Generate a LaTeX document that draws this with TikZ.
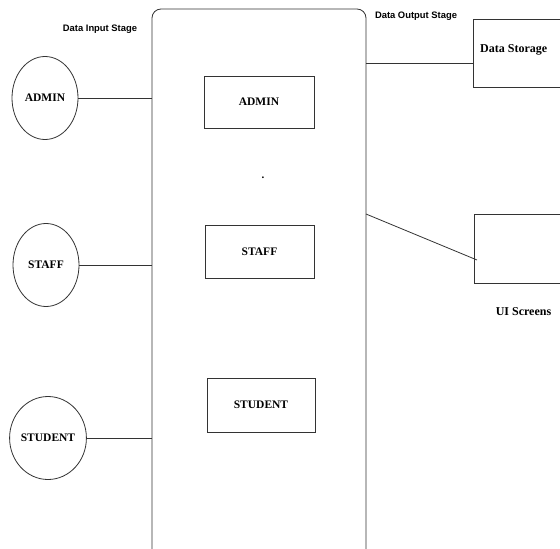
\documentclass[tikz,border=0pt]{standalone}
\usepackage{fontspec}
\setmainfont{Liberation Serif}
\newfontfamily\labsans{Liberation Sans}
\usetikzlibrary{shapes.geometric}
\begin{document}
\begin{tikzpicture}[x=1pt,y=-1pt,
  ln/.style={draw=black!80,line width=0.8pt},
  actor/.style={ellipse,ln,minimum width=66pt,minimum height=83pt,inner sep=0pt,font=\fontsize{11.5}{12}\selectfont\bfseries},
  modbox/.style={rectangle,ln,minimum width=110pt,minimum height=53pt,inner sep=0pt,font=\fontsize{11.5}{12}\selectfont\bfseries},
  outbox/.style={rectangle,ln,minimum width=100pt,minimum height=69pt,inner sep=0pt},
  stagelbl/.style={font=\labsans\fontsize{9.4}{10}\selectfont\bfseries,inner sep=0pt},
  serlbl/.style={font=\fontsize{12}{13}\selectfont\bfseries,inner sep=0pt}]
\useasboundingbox (0,0) rectangle (560,549);
% container
\node[ln,rounded corners=9pt,minimum width=214pt,minimum height=556pt,inner sep=0pt] (big) at (259,287) {};
% labels
\node[stagelbl] (inlbl) at (100,29) {Data Input Stage};
\node[stagelbl] (outlbl) at (416,16) {Data Output Stage};
% actors
\node[actor] (a1) at (45,98) {ADMIN};
\node[actor] (a2) at (46,265) {STAFF};
\node[actor] (a3) at (48,438) {STUDENT};
% modules
\node[modbox,minimum width=110pt,minimum height=52pt] (m1) at (259,102) {ADMIN};
\node[modbox,minimum width=109pt,minimum height=53pt] (m2) at (259.5,251.5) {STAFF};
\node[modbox,minimum width=108pt,minimum height=54pt] (m3) at (261,405) {STUDENT};
\node[inner sep=0pt,font=\fontsize{11}{11}\selectfont\bfseries] (dot) at (263,178) {.};
% outputs
\node[outbox,minimum height=68pt] (store) at (523,53) {};
\node[serlbl,anchor=west] (storelbl) at (480,50) {Data Storage};
\node[outbox,minimum height=69pt] (ui) at (524,248.5) {};
\node[serlbl] (uilbl) at (523.5,312) {UI Screens};
% connectors
\draw[ln] (a1.east) -- (a1.east -| big.west);
\draw[ln] (a2.east) -- (a2.east -| big.west);
\draw[ln] (a3.east) -- (a3.east -| big.west);
\coordinate (storein) at (473,63);
\draw[ln] (storein -| big.east) -- (storein);
\coordinate (uistart) at (366,214);
\coordinate (uiin) at (477,260);
\draw[ln] (uistart) -- (uiin);
\end{tikzpicture}
\end{document}
